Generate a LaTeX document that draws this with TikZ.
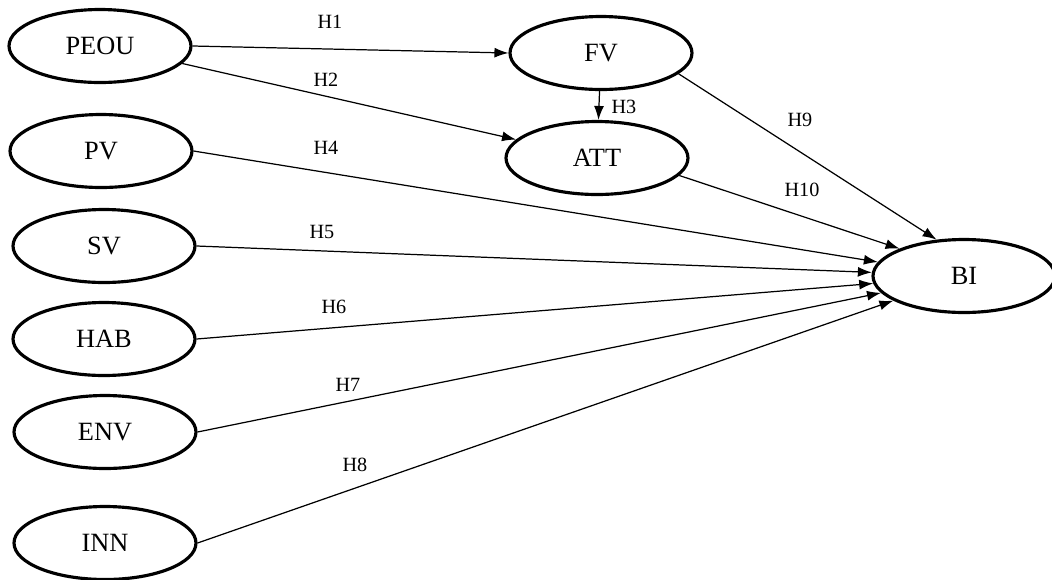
\documentclass[tikz,border=0pt]{standalone}
\usepackage{fontspec}
\setmainfont{Liberation Serif}
\usetikzlibrary{arrows.meta,shapes.geometric}

\begin{document}
\begin{tikzpicture}[x=0.02cm, y=-0.02cm,
  construct/.style={ellipse, draw, line width=1.8pt, minimum width=3.64cm, minimum height=1.46cm, font=\fontsize{15}{17}\selectfont},
  path/.style={-{Latex[length=2.8mm,width=2mm]}, line width=0.7pt},
  hyp/.style={font=\fontsize{11.5}{13}\selectfont}]
  \useasboundingbox (0,0) rectangle (1052,579);

  % exogenous constructs
  \node[construct] (peou) at (100,46) {PEOU};
  \node[construct] (pv) at (101,151) {PV};
  \node[construct] (sv) at (104,246) {SV};
  \node[construct] (hab) at (104,339) {HAB};
  \node[construct] (env) at (105,432) {ENV};
  \node[construct] (inn) at (105,543) {INN};
  % mediators
  \node[construct] (fv) at (601,53) {FV};
  \node[construct] (att) at (597,158) {ATT};
  % outcome
  \node[construct] (bi) at (964,276) {BI};

  \draw[path] (peou.east) -- (fv.west);
  \draw[path] (peou.-12) -- (att);
  \draw[path] (fv) -- (att);
  \draw[path] (pv.east) -- (bi);
  \draw[path] (sv.east) -- (bi);
  \draw[path] (hab.east) -- (bi);
  \draw[path] (env.east) -- (bi);
  \draw[path] (inn.east) -- (bi);
  \draw[path] (fv.-15) -- (bi.127);
  \draw[path] (att.-12) -- (bi.157);

  % hypothesis labels
  \node[hyp] (h1) at (330,22) {H1};
  \node[hyp] (h2) at (326,80) {H2};
  \node[hyp] (h3) at (624,107) {H3};
  \node[hyp] (h4) at (326,148) {H4};
  \node[hyp] (h5) at (322,232) {H5};
  \node[hyp] (h6) at (334,307) {H6};
  \node[hyp] (h7) at (348,385) {H7};
  \node[hyp] (h8) at (355,465) {H8};
  \node[hyp] (h9) at (800,120) {H9};
  \node[hyp] (h10) at (802,190) {H10};
\end{tikzpicture}
\end{document}
